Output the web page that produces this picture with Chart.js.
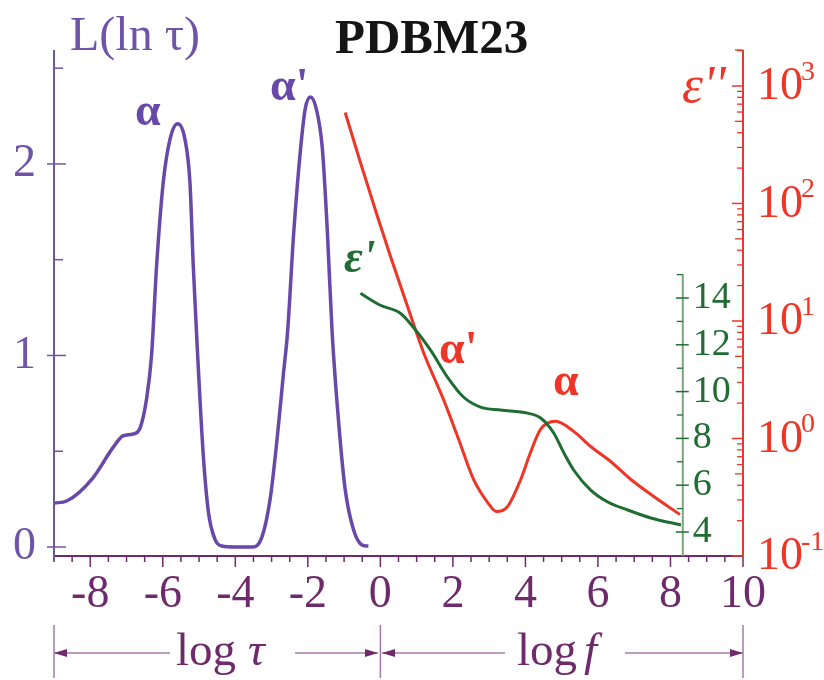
<!DOCTYPE html>
<html>
<head>
<meta charset="utf-8">
<script src="https://cdn.jsdelivr.net/npm/chart.js@4.4.1/dist/chart.umd.min.js"></script>
<style>
  html, body { margin: 0; padding: 0; background: #fff; }
</style>
</head>
<body>
<canvas id="chart" width="824" height="680"></canvas>
<script>
// L(ln tau) vs log tau
const tauLog = [-8.98, -8.65, -7.93, -7.37, -7.1, -6.82, -6.63, -6.45, -6.31, -6.17, -5.99, -5.8, -5.59, -5.39, -5.25, -5.16, -5.06, -4.88, -4.74, -4.56, -4.37, -4.0, -3.5, -3.27, -3.04, -2.85, -2.67, -2.56, -2.39, -2.2, -2.07, -1.93, -1.77, -1.6, -1.46, -1.33, -1.15, -0.97, -0.74, -0.5, -0.33];
const tauL = [0.23, 0.24, 0.36, 0.52, 0.58, 0.59, 0.62, 0.77, 1.0, 1.47, 1.9, 2.13, 2.21, 2.13, 1.9, 1.47, 1.08, 0.47, 0.18, 0.04, 0.005, 0, 0, 0.05, 0.25, 0.56, 0.91, 1.12, 1.64, 2.08, 2.29, 2.35, 2.29, 2.08, 1.64, 1.12, 0.65, 0.3, 0.09, 0.01, 0.005];

// eps'' vs log f
const fLog2 = [-0.97, -0.55, -0.08, 0.28, 0.75, 1.19, 1.74, 2.16, 2.57, 2.96, 3.2, 3.51, 3.87, 4.14, 4.42, 4.83, 5.33, 5.8, 6.35, 6.91, 7.54, 8.26];
const eps2 = [594, 223, 77.5, 35.4, 13.3, 5.4, 2.15, 0.98, 0.448, 0.285, 0.239, 0.264, 0.448, 0.76, 1.2, 1.4, 1.15, 0.855, 0.637, 0.448, 0.321, 0.225];

// eps' vs log f
const fLog1 = [-0.55, 0, 0.55, 0.91, 1.38, 1.85, 2.29, 2.76, 3.31, 4.06, 4.42, 4.78, 5.06, 5.33, 5.8, 6.27, 6.82, 7.46, 8.29];
const eps1 = [14.2, 13.69, 13.35, 12.75, 11.78, 10.62, 9.77, 9.34, 9.21, 9.08, 8.87, 8.23, 7.38, 6.65, 5.79, 5.28, 4.94, 4.6, 4.3];

const xTicks = [-8, -6, -4, -2, 0, 2, 4, 6, 8, 10];
const lTicks = [0, 1, 2];
const gTicks = [4, 6, 8, 10, 12, 14];
const rDecades = [-1, 0, 1, 2, 3];

const PURPLE = '#6848a8', AXPURPLE = '#6f55a8', XPURPLE = '#6e2a6a', ARROW = '#a47aa8';
const RED = '#ee3526', GREEN = '#1f6d33', GREENAX = '#7ba57d';
const SERIF = '"Liberation Serif", "DejaVu Serif", serif';

const pts = (xs, ys) => xs.map((v, i) => ({ x: v, y: ys[i] }));

function line(ctx, x1, y1, x2, y2, color, w) {
  ctx.strokeStyle = color; ctx.lineWidth = w;
  ctx.beginPath(); ctx.moveTo(x1, y1); ctx.lineTo(x2, y2); ctx.stroke();
}
function arrow(ctx, x1, x2, y, tip) {
  line(ctx, x1, y, x2, y, ARROW, 1.6);
  const dir = tip === x1 ? 1 : -1;
  ctx.fillStyle = XPURPLE;
  ctx.beginPath(); ctx.moveTo(tip, y); ctx.lineTo(tip + dir * 13, y - 4); ctx.lineTo(tip + dir * 13, y + 4);
  ctx.closePath(); ctx.fill();
}
function txt(ctx, s, x, y, font, color, align, base) {
  ctx.font = font; ctx.fillStyle = color;
  ctx.textAlign = align || 'left'; ctx.textBaseline = base || 'alphabetic';
  ctx.fillText(s, x, y);
}

const axesPlugin = {
  id: 'axes',
  afterDraw(chart) {
    const { ctx, chartArea: a, scales } = chart;
    const { x, yL, yR, yG } = scales;
    ctx.save();
    ctx.lineCap = 'butt';

    // bottom axis
    line(ctx, a.left, a.bottom, a.right, a.bottom, XPURPLE, 2);
    for (let v = -9; v <= 10; v += 0.5) {
      const px = x.getPixelForValue(v);
      const len = xTicks.includes(v) ? 11 : 6;
      line(ctx, px, a.bottom, px, a.bottom + len, XPURPLE, 1.5);
    }
    xTicks.forEach(v => txt(ctx, String(v), x.getPixelForValue(v), 595, '46px ' + SERIF, XPURPLE, 'center', 'middle'));

    // left axis
    line(ctx, a.left, a.top, a.left, a.bottom + 4, AXPURPLE, 2);
    lTicks.forEach(v => {
      const py = yL.getPixelForValue(v);
      line(ctx, a.left - 7, py, a.left + 12, py, AXPURPLE, 1.5);
      txt(ctx, String(v), 36, py, '46px ' + SERIF, AXPURPLE, 'right', 'middle');
    });
    [0.5, 1.5, 2.5].forEach(v => {
      const py = yL.getPixelForValue(v);
      line(ctx, a.left, py, a.left + 9, py, AXPURPLE, 1.5);
    });

    // right log axis
    line(ctx, a.right, a.top, a.right, a.bottom, RED, 2);
    rDecades.forEach(d => {
      const py = yR.getPixelForValue(Math.pow(10, d));
      line(ctx, a.right - 11, py, a.right, py, RED, 1.5);
      txt(ctx, '10', 757, py + 1, '46px ' + SERIF, RED, 'left', 'middle');
      txt(ctx, String(d), 801, py - 6, '28px ' + SERIF, RED, 'left', 'alphabetic');
      for (let m = 2; m <= 9; m++) {
        const v = m * Math.pow(10, d);
        if (v > yR.max) break;
        const q = yR.getPixelForValue(v);
        line(ctx, a.right - (m === 5 ? 8 : 6), q, a.right, q, RED, 1.3);
      }
    });
    line(ctx, a.right - 8, a.top, a.right, a.top, RED, 1.3);

    // inner eps' axis
    const gx = x.getPixelForValue(8.34);
    line(ctx, gx, yG.getPixelForValue(15), gx, a.bottom, GREENAX, 2);
    gTicks.forEach(v => {
      const py = yG.getPixelForValue(v);
      line(ctx, gx - 7, py, gx + 6, py, GREEN, 1.5);
      txt(ctx, String(v), gx + 10, py, '38px ' + SERIF, GREEN, 'left', 'middle');
    });
    [5, 7, 9, 11, 13, 15].forEach(v => {
      const py = yG.getPixelForValue(v);
      line(ctx, gx - 6, py, gx, py, GREEN, 1.3);
    });

    // titles and peak labels
    txt(ctx, 'L(ln τ)', 70, 50, '48px ' + SERIF, AXPURPLE);
    txt(ctx, 'PDBM23', 335, 53, 'bold 49px ' + SERIF, '#151515');
    txt(ctx, 'α', 135, 125, 'bold 46px ' + SERIF, PURPLE);
    txt(ctx, "α'", 270, 100, 'bold 46px ' + SERIF, PURPLE);
    txt(ctx, "ε'", 344, 272, 'italic bold 46px ' + SERIF, GREEN);
    txt(ctx, "ε''", 682, 102, 'italic 53px ' + SERIF, RED);
    txt(ctx, "α'", 439, 363, 'bold 46px ' + SERIF, RED);
    txt(ctx, 'α', 553, 395, 'bold 46px ' + SERIF, RED);

    // bottom ranges
    const by = 653;
    [a.left, x.getPixelForValue(0), a.right].forEach(px => line(ctx, px, 625, px, 678, ARROW, 1.5));
    arrow(ctx, a.left, 170, by, a.left);
    arrow(ctx, 295, 378, by, 378);
    arrow(ctx, 382, 505, by, 382);
    arrow(ctx, 625, a.right, by, a.right);
    txt(ctx, 'log', 176, 665, '47px ' + SERIF, XPURPLE);
    txt(ctx, 'τ', 248, 665, 'italic 47px ' + SERIF, XPURPLE);
    txt(ctx, 'log', 517, 665, '47px ' + SERIF, XPURPLE);
    txt(ctx, 'f', 584, 665, 'italic 47px ' + SERIF, XPURPLE);

    ctx.restore();
  }
};

new Chart(document.getElementById('chart'), {
  type: 'line',
  data: {
    datasets: [
      { data: pts(fLog1, eps1), yAxisID: 'yG', borderColor: GREEN, borderWidth: 3, pointRadius: 0, cubicInterpolationMode: 'monotone', fill: false },
      { data: pts(fLog2, eps2), yAxisID: 'yR', borderColor: RED, borderWidth: 3, pointRadius: 0, cubicInterpolationMode: 'monotone', fill: false },
      { data: pts(tauLog, tauL), yAxisID: 'yL', borderColor: PURPLE, borderWidth: 3.5, pointRadius: 0, cubicInterpolationMode: 'monotone', fill: false }
    ]
  },
  options: {
    responsive: false,
    animation: false,
    layout: { padding: { left: 54, right: 81, top: 50, bottom: 124 } },
    plugins: { legend: { display: false }, tooltip: { enabled: false } },
    scales: {
      x: { type: 'linear', min: -9, max: 10, display: false },
      yL: { type: 'linear', min: -0.047, max: 2.595, display: false },
      yR: { type: 'logarithmic', min: 0.1, max: 2023, display: false },
      yG: { type: 'linear', min: 2.974, max: 24.6, display: false }
    }
  },
  plugins: [axesPlugin]
});
</script>
</body>
</html>
